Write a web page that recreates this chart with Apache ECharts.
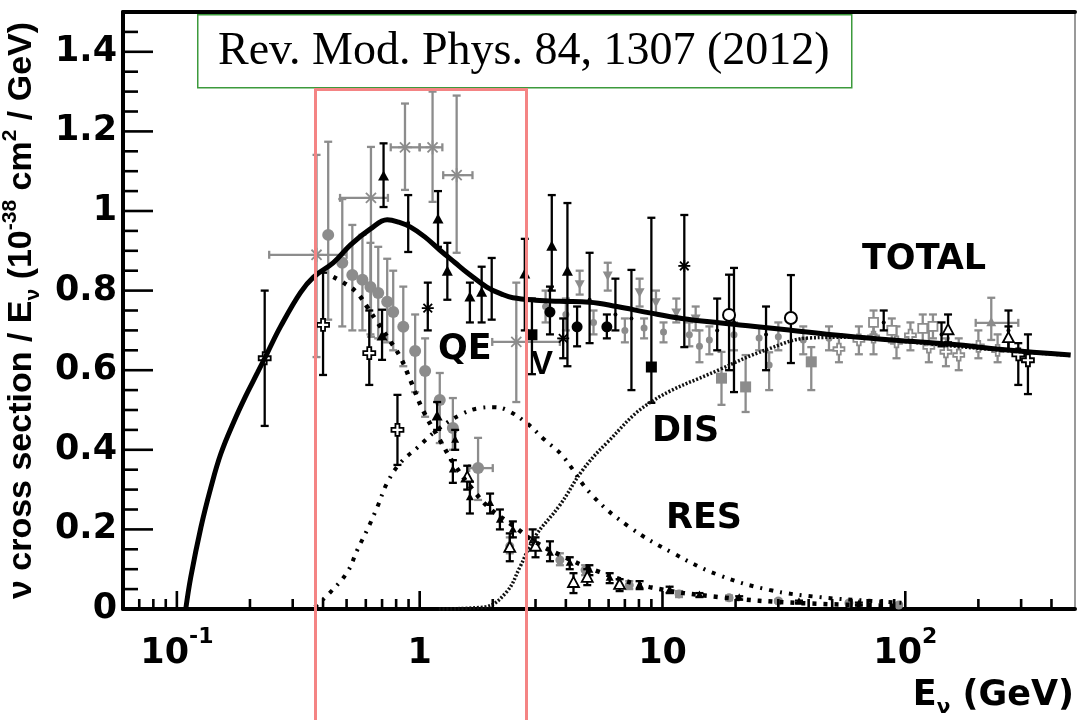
<!DOCTYPE html>
<html><head><meta charset="utf-8">
<script src="https://cdn.jsdelivr.net/npm/echarts@6/dist/echarts.min.js"></script>
<style>html,body{margin:0;padding:0;background:#fff}#c{width:1078px;height:720px}</style>
</head><body><div id="c"></div>
<script>
// ---------- axis ranges & ticks ----------
const xAxisMin = 0.06, xAxisMax = 500, yAxisMin = 0, yAxisMax = 1.5;
const xTickMajor = [0.1, 1, 10, 100];
const xTickMinor = [0.07,0.08,0.09,0.2,0.3,0.4,0.5,0.6,0.7,0.8,0.9,2,3,4,5,6,7,8,9,20,30,40,50,60,70,80,90,200,300,400];
const yTickMajor = [0,0.2,0.4,0.6,0.8,1.0,1.2,1.4];
const yTickMinor = [0.05,0.1,0.15,0.25,0.3,0.35,0.45,0.5,0.55,0.65,0.7,0.75,0.85,0.9,0.95,1.05,1.1,1.15,1.25,1.3,1.35,1.45];

// ---------- theory curves [E (GeV), sigma/E] ----------
const totalCurve = [[0.1088,0],[0.1141,0.08],[0.1256,0.205],[0.138,0.305],[0.1517,0.39],[0.1715,0.47],[0.192,0.535],[0.2153,0.595],[0.2365,0.645],[0.2675,0.71],[0.3228,0.795],[0.3654,0.834],[0.4413,0.87],[0.519,0.915],[0.627,0.955],[0.735,0.978],[0.82,0.972],[0.914,0.96],[1.05,0.935],[1.21,0.902],[1.4,0.87],[1.57,0.845],[1.89,0.809],[2.2,0.79],[2.42,0.782],[3,0.776],[3.78,0.773],[5.01,0.771],[6.5,0.76],[8.85,0.744],[12,0.73],[17.1,0.719],[24,0.71],[33.2,0.701],[50,0.689],[80,0.678],[155,0.665],[250,0.652],[480,0.638]];
const qeCurve = [[0.441,0.834],[0.5,0.815],[0.553,0.794],[0.608,0.759],[0.67,0.72],[0.735,0.684],[0.832,0.633],[0.914,0.576],[1.03,0.5],[1.21,0.425],[1.4,0.36],[1.66,0.299],[1.95,0.252],[2.42,0.21],[3.0,0.168],[3.78,0.136],[5.5,0.093],[8.85,0.055],[17.1,0.030],[36.6,0.015],[94,0.008]];
const resCurve = [[0.37,0.005],[0.43,0.043],[0.504,0.093],[0.553,0.148],[0.608,0.199],[0.669,0.256],[0.735,0.317],[0.832,0.367],[0.977,0.405],[1.18,0.45],[1.47,0.488],[1.77,0.505],[2.0,0.507],[2.28,0.5],[2.76,0.467],[3.27,0.425],[3.85,0.387],[5.11,0.287],[7.31,0.206],[11,0.141],[17.1,0.085],[27.5,0.048],[44.1,0.03],[72.8,0.02],[100,0.015]];
const disCurve = [[1.2,0],[1.85,0.005],[2.28,0.043],[2.59,0.106],[2.98,0.181],[3.78,0.261],[4.69,0.349],[5.89,0.417],[8.85,0.518],[17.1,0.601],[26.7,0.651],[40.2,0.681],[60,0.683],[100,0.672],[200,0.655],[480,0.637]];

// ---------- measurements [E, value, low, high, (E low, E high)] ----------
const grayCircles = [[0.42,0.94,0.727,1.174],[0.48,0.87,0.71,1.03],[0.528,0.839,0.70,0.965],[0.581,0.827,0.70,0.94],[0.627,0.809,0.69,0.92],[0.675,0.794,0.68,0.91],[0.735,0.772,0.67,0.88],[0.778,0.746,0.65,0.85],[0.856,0.709,0.61,0.81],[0.958,0.648,0.545,0.74],[1.053,0.598,0.483,0.68],[1.21,0.525,0.417,0.593],[1.37,0.455,0.40,0.53],[1.74,0.354,0.274,0.43,1.6,2.0]];
const grayStars = [[0.376,0.89,0.633,1.141,0.24,0.5],[0.63,1.033,0.684,1.161,0.47,0.74],[0.87,1.16,1.053,1.27,0.76,1.0],[1.13,1.16,1.023,1.30,1.0,1.24],[1.42,1.09,0.895,1.29,1.25,1.65],[2.5,0.671,0.52,0.82,1.99,3.78]];
const blackTriangles = [[0.71,1.086,1.01,1.17],[1.19,0.978,0.91,1.05],[1.30,0.847,0.777,0.92],[1.61,0.782,0.72,0.82],[1.80,0.794,0.72,0.86],[0.70,0.684,0.626,0.752],[2.71,0.84,0.70,0.93],[3.5,0.91,0.80,1.04],[4.06,0.847,0.61,1.02],[1.18,0.483,0.45,0.52]];
const blackStars = [[1.08,0.756,0.70,0.82],[3.9,0.68,0.63,0.73],[12.3,0.862,0.658,0.99]];
const blackCircles = [[3.44,0.746,0.69,0.81],[4.45,0.709,0.66,0.76],[5.9,0.709,0.68,0.74]];
const blackSquares = [[2.9,0.689,0.59,0.78],[9.0,0.608,0.518,0.983]];
const graySquares = [[17.5,0.58,0.513,0.646],[22,0.558,0.495,0.638],[41,0.621,0.55,0.658]];
const openCircles = [[18.8,0.739,0.60,0.84],[33.8,0.731,0.618,0.839]];
const openCrosses = [[0.23,0.63,0.46,0.80],[0.40,0.714,0.588,0.845],[0.62,0.643,0.563,0.75],[0.81,0.45,0.362,0.538],[292,0.64,0.563,0.668],[320,0.625,0.54,0.69]];
const blackBars = [[0.897,0.97,0.897,1.04],[1.98,0.80,0.727,0.882],[5.01,0.777,0.668,0.895],[6.4,0.74,0.70,0.83],[7.45,0.73,0.55,0.852],[16.8,0.70,0.65,0.78],[19.7,0.72,0.545,0.857],[26.7,0.69,0.60,0.76],[81.5,0.72,0.70,0.75],[141,0.69,0.66,0.72],[266,0.70,0.65,0.75]];
const grayDownTri = [[4.56,0.817,0.79,0.85],[5.95,0.839,0.80,0.87],[8.05,0.797,0.76,0.83],[9.4,0.772,0.74,0.80],[11.4,0.746,0.72,0.78],[13.7,0.731,0.70,0.76]];
const grayMid = [[3.3,0.76,0.72,0.80],[4.0,0.74,0.70,0.78],[5.2,0.72,0.69,0.75],[7.0,0.70,0.67,0.73],[8.4,0.706,0.68,0.73],[10.1,0.696,0.67,0.72],[12.9,0.689,0.66,0.72],[14.2,0.66,0.62,0.70],[15.6,0.676,0.64,0.71],[19.7,0.689,0.65,0.72],[25,0.681,0.65,0.71],[27.5,0.613,0.55,0.645],[30,0.684,0.65,0.72],[38,0.676,0.64,0.71],[48.5,0.68,0.65,0.71]];
const grayOpenCross = [[53.3,0.653,0.62,0.69],[64.4,0.676,0.64,0.71],[74,0.683,0.64,0.73],[92,0.671,0.63,0.71],[105,0.688,0.65,0.72],[125,0.658,0.62,0.70],[147,0.646,0.61,0.68],[166,0.638,0.60,0.68],[200,0.66,0.63,0.70],[240,0.65,0.62,0.69]];
const grayOpenSq = [[74,0.72,0.69,0.75],[88,0.70,0.67,0.73],[118,0.705,0.67,0.74],[130,0.71,0.68,0.74]];
const grayTriH = [[226,0.719,0.676,0.782,195,292]];
const openTriangles = [[1.57,0.33,0.30,0.36],[2.35,0.153,0.12,0.19],[3.0,0.156,0.13,0.18],[4.3,0.065,0.04,0.09],[4.9,0.078,0.06,0.10],[6.66,0.06,0.045,0.075],[150,0.70,0.67,0.74],[266,0.68,0.65,0.71]];
const blackTail = [[1.40,0.425,0.40,0.45],[1.37,0.35,0.317,0.374],[1.61,0.28,0.24,0.32],[1.95,0.266,0.24,0.29],[2.14,0.224,0.20,0.25],[2.42,0.199,0.18,0.22],[2.92,0.173,0.15,0.20],[3.44,0.141,0.12,0.17],[4.15,0.116,0.10,0.13],[5.0,0.098,0.085,0.11],[6.06,0.078,0.065,0.09],[8.05,0.06,0.05,0.07],[10.7,0.048,0.04,0.056],[14.2,0.035,0.03,0.04],[20.7,0.028,0.024,0.032],[36.5,0.018,0.015,0.021],[64.4,0.013,0.01,0.016]];
const grayTail = [[2.35,0.158,0.14,0.18],[3.78,0.123,0.11,0.14],[4.8,0.098,0.085,0.11],[7.3,0.06,0.05,0.07],[11.7,0.038,0.03,0.045],[18.8,0.028,0.022,0.034],[30,0.02,0.016,0.024],[58.6,0.015,0.012,0.018],[94,0.01,0.007,0.013]];

const BLACK = '#000', GRAY = '#8c8c8c';
const FONT = 'DejaVu Sans';

function norm(arr){ return arr.map(d => d.length >= 6 ? d : [d[0], d[1], d[2], d[3], d[0], d[0]]); }

function markerShape(kind, x, y, s, color){
  const h = s/2;
  switch(kind){
    case 'circle': return {type:'circle', shape:{cx:x,cy:y,r:h}, style:{fill:color}};
    case 'ocircle': return {type:'circle', shape:{cx:x,cy:y,r:h}, style:{fill:'#fff', stroke:color, lineWidth:2}};
    case 'square': return {type:'rect', shape:{x:x-h,y:y-h,width:s,height:s}, style:{fill:color}};
    case 'osquare': return {type:'rect', shape:{x:x-h,y:y-h,width:s,height:s}, style:{fill:'#fff', stroke:color, lineWidth:1.8}};
    case 'tri': return {type:'polygon', shape:{points:[[x,y-h*1.15],[x-h,y+h*0.7],[x+h,y+h*0.7]]}, style:{fill:color}};
    case 'otri': return {type:'polygon', shape:{points:[[x,y-h*1.15],[x-h,y+h*0.7],[x+h,y+h*0.7]]}, style:{fill:'#fff', stroke:color, lineWidth:1.8}};
    case 'tridown': return {type:'polygon', shape:{points:[[x,y+h*1.15],[x-h,y-h*0.7],[x+h,y-h*0.7]]}, style:{fill:color}};
    case 'plus': {
      const a = s/6;
      return {type:'polygon', shape:{points:[[x-a,y-h],[x+a,y-h],[x+a,y-a],[x+h,y-a],[x+h,y+a],[x+a,y+a],[x+a,y+h],[x-a,y+h],[x-a,y+a],[x-h,y+a],[x-h,y-a],[x-a,y-a]]}, style:{fill:'#fff', stroke:color, lineWidth:1.8}};
    }
    case 'star': {
      const d = h*0.72;
      return {type:'group', children:[
        {type:'line', shape:{x1:x-h,y1:y,x2:x+h,y2:y}, style:{stroke:color,lineWidth:1.8}},
        {type:'line', shape:{x1:x,y1:y-h,x2:x,y2:y+h}, style:{stroke:color,lineWidth:1.8}},
        {type:'line', shape:{x1:x-d,y1:y-d,x2:x+d,y2:y+d}, style:{stroke:color,lineWidth:1.8}},
        {type:'line', shape:{x1:x-d,y1:y+d,x2:x+d,y2:y-d}, style:{stroke:color,lineWidth:1.8}}
      ]};
    }
    default: return {type:'circle', shape:{cx:x,cy:y,r:2}, style:{fill:color}};
  }
}

function errSeries(name, data, color, kind, size, z){
  return {
    type:'custom', name, z: z || 3, clip:false, silent:true,
    data: norm(data),
    encode:{x:0, y:1},
    renderItem(params, api){
      const E = api.value(0), v = api.value(1);
      const p = api.coord([E, v]);
      const pl = api.coord([E, api.value(2)]), ph = api.coord([E, api.value(3)]);
      const st = {stroke:color, lineWidth:2.3};
      const cw = 4;
      const ch = [
        {type:'line', shape:{x1:p[0],y1:pl[1],x2:p[0],y2:ph[1]}, style:st},
        {type:'line', shape:{x1:p[0]-cw,y1:ph[1],x2:p[0]+cw,y2:ph[1]}, style:st},
        {type:'line', shape:{x1:p[0]-cw,y1:pl[1],x2:p[0]+cw,y2:pl[1]}, style:st}
      ];
      const eLo = api.value(4), eHi = api.value(5);
      if (eLo !== eHi) {
        const a = api.coord([eLo, v]), b = api.coord([eHi, v]);
        ch.push({type:'line', shape:{x1:a[0],y1:p[1],x2:b[0],y2:p[1]}, style:st});
        ch.push({type:'line', shape:{x1:a[0],y1:p[1]-cw,x2:a[0],y2:p[1]+cw}, style:st});
        ch.push({type:'line', shape:{x1:b[0],y1:p[1]-cw,x2:b[0],y2:p[1]+cw}, style:st});
      }
      ch.push(markerShape(kind, p[0], p[1], size, color));
      return {type:'group', children:ch};
    }
  };
}

function tickSeries(name, vals, dir, len){
  const data = dir === 'x' ? vals.map(v => [v, yAxisMin]) : vals.map(v => [xAxisMin, v]);
  return {
    type:'custom', name, z:20, clip:false, silent:true, data, encode:{x:0,y:1},
    renderItem(params, api){
      const p = api.coord([api.value(0), api.value(1)]);
      const shape = dir === 'x' ? {x1:p[0],y1:p[1],x2:p[0],y2:p[1]-len} : {x1:p[0],y1:p[1],x2:p[0]+len,y2:p[1]};
      return {type:'line', shape, style:{stroke:'#000', lineWidth:2.6}};
    }
  };
}

function curve(name, data, style, z){
  return {type:'line', name, data, showSymbol:false, smooth:0.4, z: z || 8, silent:true, lineStyle:style, clip:true};
}

const chart = echarts.init(document.getElementById('c'), null, {renderer:'canvas'});

const labelRich = {
  b:{fontFamily:FONT, fontWeight:'bold', fontSize:35, lineHeight:56, color:'#000'},
  sup:{fontFamily:FONT, fontWeight:'bold', fontSize:22, lineHeight:22, verticalAlign:'top', color:'#000'}
};

chart.setOption({
  animation:false,
  backgroundColor:'#fff',
  grid:{left:123, right:3, top:12, bottom:111, containLabel:false, outerBoundsMode:'none'},
  xAxis:[{
    type:'log', logBase:10, min:xAxisMin, max:xAxisMax,
    axisLine:{show:true, onZero:false, lineStyle:{color:'#000', width:4}},
    axisTick:{show:false}, splitLine:{show:false}, minorTick:{show:false},
    axisLabel:{
      margin:17, showMinLabel:true, showMaxLabel:true,
      formatter(v){
        const l = Math.log10(v), k = Math.round(l);
        if (Math.abs(l - k) > 1e-6) return '';
        if (k === -1) return '{b|10}{sup|-1}';
        if (k === 0) return '{b|1}';
        if (k === 1) return '{b|10}';
        if (k === 2) return '{b|10}{sup|2}';
        return '';
      },
      rich:labelRich
    }
  },{
    type:'log', logBase:10, min:xAxisMin, max:xAxisMax, position:'top',
    axisLine:{show:true, onZero:false, lineStyle:{color:'#000', width:4}},
    axisTick:{show:false}, axisLabel:{show:false}, splitLine:{show:false}
  }],
  yAxis:[{
    type:'value', min:yAxisMin, max:yAxisMax, interval:0.2,
    axisLine:{show:true, onZero:false, lineStyle:{color:'#000', width:4}},
    axisTick:{show:false}, splitLine:{show:false},
    axisLabel:{
      margin:6, fontFamily:FONT, fontWeight:'bold', fontSize:35, color:'#000',
      formatter(v){ return v > 1.45 ? '' : String(Number(v.toFixed(1))); }
    },
    name:'{a|ν cross section / E}{sub|ν}{a| (10}{sup|-38}{a| cm}{sup|2}{a| / GeV)}',
    nameLocation:'middle', nameRotate:90, nameGap:66,
    nameTextStyle:{
      rich:{
        a:{fontFamily:'Liberation Sans', fontWeight:'bold', fontSize:34, lineHeight:44, color:'#000'},
        sub:{fontFamily:'Liberation Sans', fontWeight:'bold', fontSize:21, lineHeight:21, verticalAlign:'bottom', color:'#000'},
        sup:{fontFamily:'Liberation Sans', fontWeight:'bold', fontSize:21, lineHeight:21, verticalAlign:'top', color:'#000'}
      }
    }
  },{
    type:'value', min:yAxisMin, max:yAxisMax, position:'right',
    axisLine:{show:true, onZero:false, lineStyle:{color:'#777', width:1.5}},
    axisTick:{show:false}, axisLabel:{show:false}, splitLine:{show:false}
  }],
  series:[
    tickSeries('xMajor', xTickMajor, 'x', 18),
    tickSeries('xMinor', xTickMinor, 'x', 10),
    tickSeries('yMajor', yTickMajor, 'y', 30),
    tickSeries('yMinor', yTickMinor, 'y', 15),
    errSeries('grayStars', grayStars, GRAY, 'star', 14),
    errSeries('grayCircles', grayCircles, GRAY, 'circle', 12),
    errSeries('grayDownTri', grayDownTri, GRAY, 'tridown', 10),
    errSeries('grayMid', grayMid, GRAY, 'circle', 7),
    errSeries('grayOpenCross', grayOpenCross, GRAY, 'plus', 11),
    errSeries('grayOpenSq', grayOpenSq, GRAY, 'osquare', 9),
    errSeries('grayTriH', grayTriH, GRAY, 'tri', 10),
    errSeries('graySquares', graySquares, GRAY, 'square', 11),
    errSeries('grayTail', grayTail, GRAY, 'circle', 9),
    errSeries('blackBars', blackBars, BLACK, 'dot', 4, 4),
    errSeries('blackTriangles', blackTriangles, BLACK, 'tri', 11, 4),
    errSeries('blackStars', blackStars, BLACK, 'star', 12, 4),
    errSeries('blackCircles', blackCircles, BLACK, 'circle', 11, 4),
    errSeries('blackSquares', blackSquares, BLACK, 'square', 11, 4),
    errSeries('blackTail', blackTail, BLACK, 'tri', 8, 4),
    errSeries('openTriangles', openTriangles, BLACK, 'otri', 11, 4),
    errSeries('openCircles', openCircles, BLACK, 'ocircle', 12, 4),
    errSeries('openCrosses', openCrosses, BLACK, 'plus', 12, 4),
    curve('DIS', disCurve, {color:'#111', width:3.5, type:[2,1.8]}, 7),
    curve('RES', resCurve, {color:'#000', width:4, type:[4,7,2,7]}, 8),
    curve('QE', qeCurve, {color:'#000', width:4.5, type:[4,7]}, 8),
    curve('TOTAL', totalCurve, {color:'#000', width:5}, 9)
  ],
  graphic:[
    {type:'text', left:862, top:242, z:50, style:{text:'TOTAL', fontFamily:FONT, fontWeight:'bold', fontSize:35, fill:'#000'}},
    {type:'text', left:438, top:332, z:50, style:{text:'QE', fontFamily:FONT, fontWeight:'bold', fontSize:35, fill:'#000'}},
    {type:'text', left:531, top:348, z:50, style:{text:'V', fontFamily:'Liberation Sans', fontWeight:'bold', fontSize:33, fill:'#000'}},
    {type:'text', left:652, top:414, z:50, style:{text:'DIS', fontFamily:FONT, fontWeight:'bold', fontSize:35, fill:'#000'}},
    {type:'text', left:666, top:501, z:50, style:{text:'RES', fontFamily:FONT, fontWeight:'bold', fontSize:35, fill:'#000'}},
    {type:'text', right:4, top:678, z:50, style:{
      text:'{a|E}{sub|ν}{a| (GeV)}',
      rich:{
        a:{fontFamily:FONT, fontWeight:'bold', fontSize:35, lineHeight:44, fill:'#000'},
        sub:{fontFamily:FONT, fontWeight:'bold', fontSize:20, lineHeight:20, verticalAlign:'bottom', fill:'#000'}
      }}},
    {type:'rect', left:197, top:14, z:60, shape:{width:654, height:73}, style:{fill:'#fff', stroke:'#3c9a3c', lineWidth:1.5}},
    {type:'text', left:218, top:29, z:61, style:{text:'Rev. Mod. Phys. 84, 1307 (2012)', fontFamily:'Liberation Serif', fontSize:46, fill:'#000'}},
    {type:'rect', left:313, top:87, z:60, shape:{width:211, height:640}, style:{fill:'none', stroke:'#f48484', lineWidth:3}}
  ]
});
</script>
</body></html>
